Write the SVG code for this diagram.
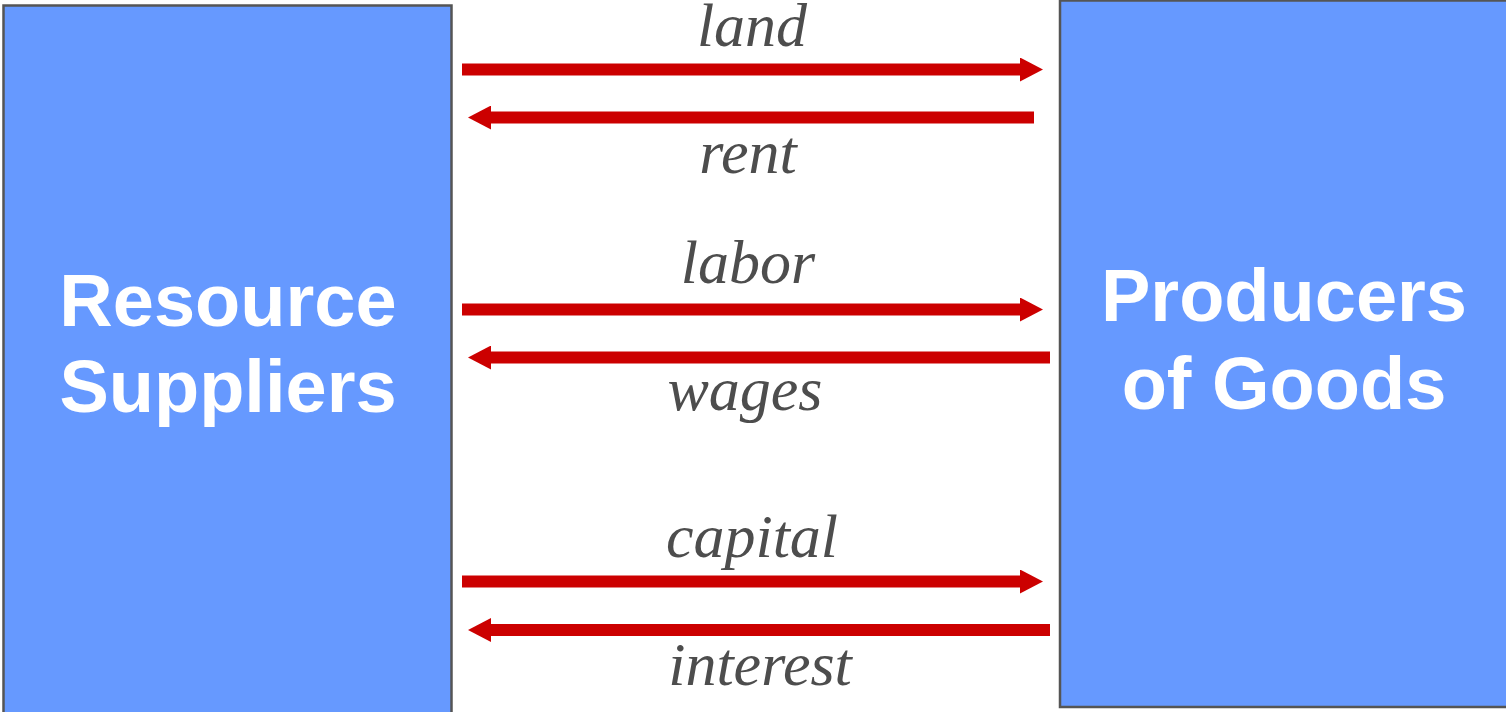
<svg xmlns="http://www.w3.org/2000/svg" width="1506" height="712" viewBox="0 0 1506 712">
  <style>
    .box { fill: #6699FF; stroke: #555555; stroke-width: 2.5; }
    .title { font-family: "Liberation Sans", Arial, sans-serif; font-weight: bold; font-size: 74px; fill: #FFFFFF; text-anchor: middle; }
    .lbl { font-family: "Liberation Serif", "Times New Roman", serif; font-style: italic; font-size: 62px; fill: #4D4D4D; text-anchor: middle; }
    .flow { stroke: #CC0000; stroke-width: 12; fill: none; marker-end: url(#head); }
  </style>
  <defs>
    <marker id="head" markerUnits="userSpaceOnUse" markerWidth="23" markerHeight="24" viewBox="0 0 23 24" refX="3" refY="12" orient="auto">
      <path d="M0,0 L23,12 L0,24 Z" fill="#CC0000"/>
    </marker>
  </defs>
  <rect width="1506" height="712" fill="#FFFFFF"/>
  <g id="resource-suppliers">
    <rect class="box" x="3.5" y="5.5" width="448" height="720"/>
    <text class="title" x="228" y="326">Resource</text>
    <text class="title" x="228" y="412">Suppliers</text>
  </g>
  <g id="producers-of-goods">
    <rect class="box" x="1060" y="0.5" width="470" height="706.5"/>
    <text class="title" x="1284" y="321">Producers</text>
    <text class="title" x="1284" y="409">of Goods</text>
  </g>
  <g id="connectors">
    <line class="flow" x1="462" y1="69.5" x2="1023" y2="69.5"/>
    <line class="flow" x1="1034" y1="117.5" x2="488" y2="117.5"/>
    <line class="flow" x1="462" y1="309.5" x2="1023" y2="309.5"/>
    <line class="flow" x1="1050" y1="357.5" x2="488" y2="357.5"/>
    <line class="flow" x1="462" y1="581.5" x2="1023" y2="581.5"/>
    <line class="flow" x1="1050" y1="630" x2="488" y2="630"/>
  </g>
  <g id="labels">
    <text class="lbl" x="752" y="46">land</text>
    <text class="lbl" x="748" y="173">rent</text>
    <text class="lbl" x="748" y="283">labor</text>
    <text class="lbl" x="745" y="410">wages</text>
    <text class="lbl" x="752" y="557">capital</text>
    <text class="lbl" x="760" y="685">interest</text>
  </g>
</svg>
